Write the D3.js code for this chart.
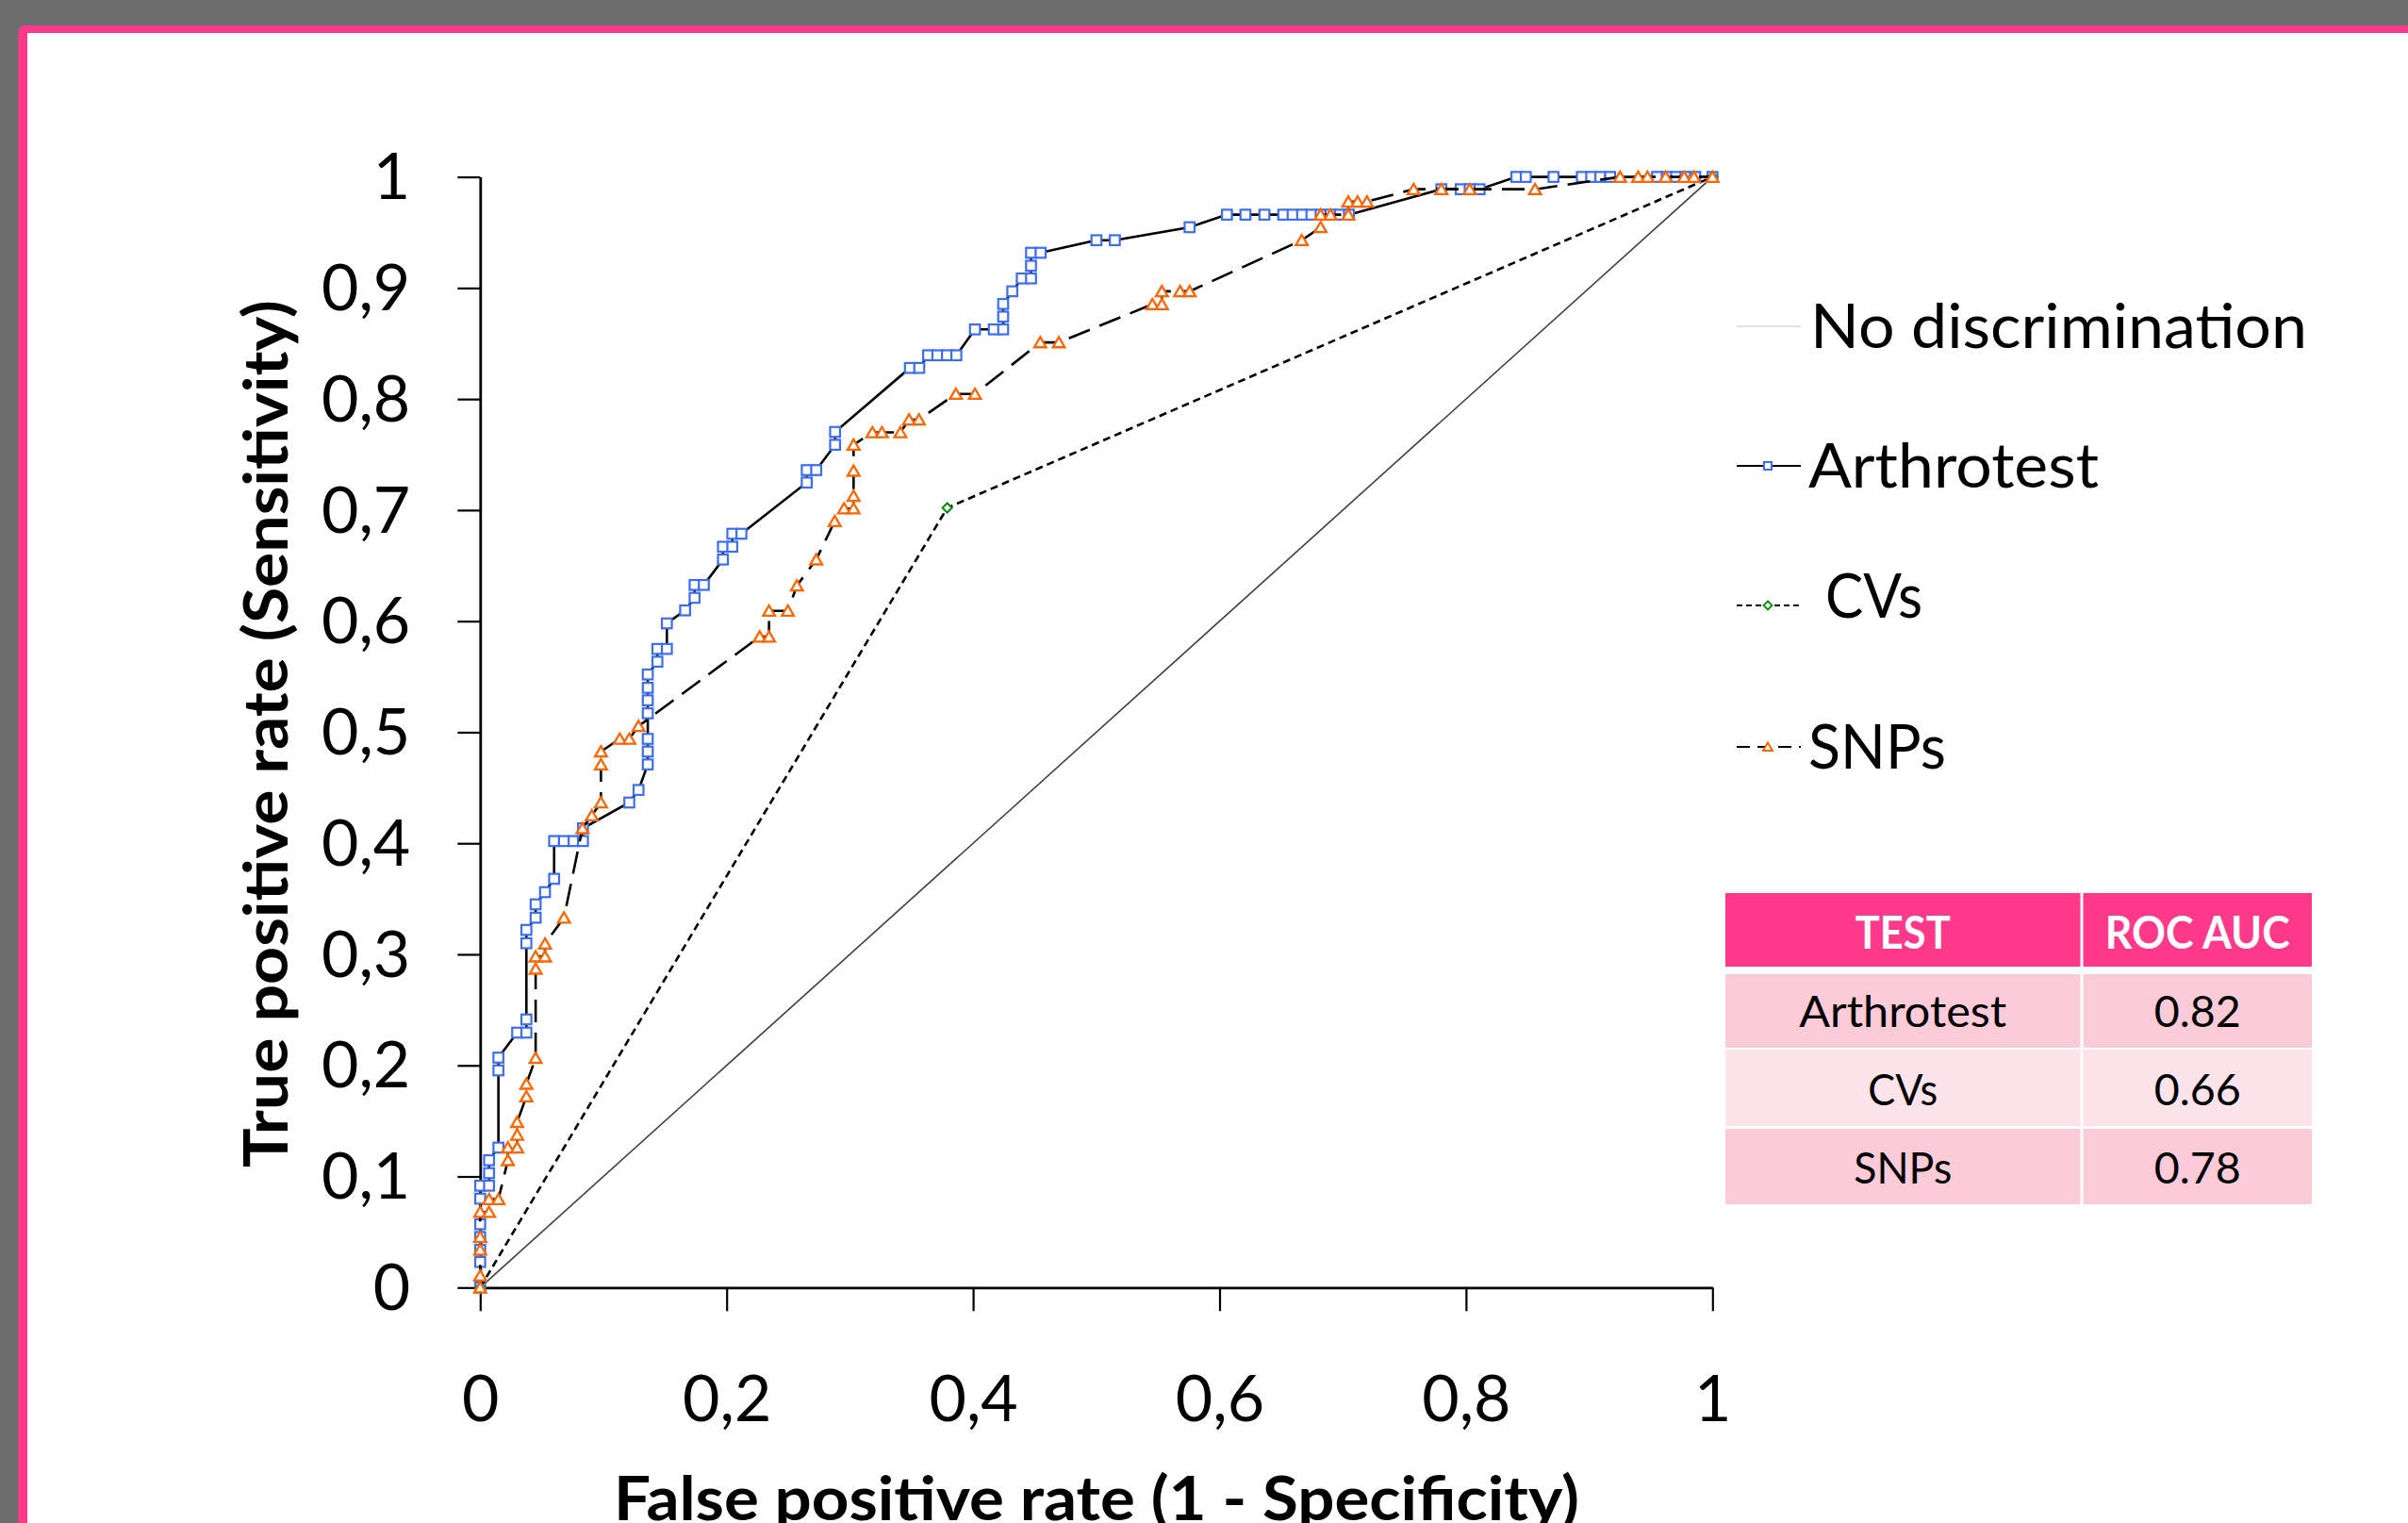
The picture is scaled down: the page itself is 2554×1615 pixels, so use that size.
<!DOCTYPE html>
<html><head><meta charset="utf-8">
<script src="https://cdn.jsdelivr.net/npm/d3@7"></script>
<style>body{margin:0;background:#6d6d6d;overflow:hidden} svg{display:block}</style>
</head><body>
<svg id="c" width="2554" height="1615"></svg>
<script>
// ---------- data ----------
const xTicks = [0, 0.2, 0.4, 0.6, 0.8, 1];
const xTickLabels = ["0", "0,2", "0,4", "0,6", "0,8", "1"];
const yTicks = [0, 0.1, 0.2, 0.3, 0.4, 0.5, 0.6, 0.7, 0.8, 0.9, 1];
const yTickLabels = ["0", "0,1", "0,2", "0,3", "0,4", "0,5", "0,6", "0,7", "0,8", "0,9", "1"];

const diagFPR = [0, 1];
const diagTPR = [0, 1];

const arthroFPR = [0,0,0,0,0,0,0,0.0072,0.0072,0.0072,0.0148,0.0148,0.0148,0.030,0.0375,0.0375,0.0375,0.0375,0.045,0.045,
  0.0526,0.060,0.060,0.068,0.0758,0.0834,0.0834,0.121,0.1285,0.136,0.136,0.136,0.136,0.136,0.136,0.136,0.1438,0.1438,0.1515,0.1515,
  0.1663,0.174,0.174,0.1815,0.197,0.197,0.2046,0.2046,0.212,0.265,0.265,0.2727,0.288,0.288,0.3487,0.3563,0.3635,0.371,0.3788,0.3864,
  0.4015,0.4168,0.4244,0.4244,0.4244,0.4318,0.4395,0.447,0.447,0.447,0.4548,0.5001,0.515,0.5757,0.606,0.621,0.6364,0.6517,0.6593,0.667,
  0.6746,0.682,0.690,0.6976,0.705,0.780,0.7957,0.803,0.811,0.8409,0.8485,0.871,0.894,0.9016,0.909,0.917,0.955,0.963,0.9705,0.978,0.986,1];
const arthroTPR = [0,0.023,0.034,0.0455,0.057,0.080,0.0917,0.0917,0.103,0.1146,0.126,0.1955,0.207,0.2295,0.2295,0.2414,0.310,0.322,0.333,0.345,
  0.356,0.368,0.402,0.402,0.402,0.402,0.4135,0.4367,0.448,0.471,0.4826,0.494,0.517,0.5287,0.540,0.552,0.5635,0.575,0.575,0.598,
  0.6097,0.621,0.6326,0.6326,0.6555,0.667,0.667,0.6787,0.6787,0.7248,0.736,0.736,0.7588,0.7704,0.828,0.828,0.8394,0.8394,0.8394,0.8394,
  0.8627,0.8627,0.8627,0.8742,0.8856,0.897,0.9086,0.9086,0.920,0.9317,0.9317,0.943,0.943,0.9547,0.966,0.966,0.966,0.966,0.966,0.966,
  0.966,0.966,0.966,0.966,0.966,0.9889,0.9889,0.9889,0.9889,1,1,1,1,1,1,1,1,1,1,1,1,1];

const cvsFPR = [0, 0.379, 1];
const cvsTPR = [0, 0.702, 1];

const snpsFPR = [0,0,0,0,0,0.0072,0.0072,0.0148,0.0225,0.0225,0.030,0.030,0.030,0.0375,0.0375,0.045,0.045,0.045,0.0526,0.0526,
  0.068,0.083,0.0906,0.098,0.098,0.098,0.1133,0.121,0.1285,0.2268,0.2344,0.2344,0.2497,0.257,0.2727,0.2877,0.2953,0.303,0.303,0.303,
  0.303,0.3183,0.326,0.341,0.348,0.356,0.386,0.4015,0.4545,0.4696,0.5455,0.5532,0.5532,0.568,0.5757,0.6667,0.682,0.682,0.690,0.7045,
  0.7045,0.712,0.7196,0.7575,0.780,0.803,0.856,0.925,0.9397,0.9473,0.962,0.977,0.985,1];
const snpsTPR = [0,0.0107,0.034,0.0455,0.068,0.068,0.0795,0.0795,0.1146,0.126,0.126,0.1375,0.149,0.172,0.1834,0.2066,0.287,0.298,0.298,0.3096,
  0.333,0.4135,0.425,0.4367,0.471,0.4826,0.494,0.494,0.5055,0.586,0.586,0.6093,0.6093,0.632,0.6555,0.690,0.7014,0.7014,0.7127,0.7353,
  0.7588,0.770,0.770,0.770,0.7815,0.7815,0.8046,0.8046,0.851,0.851,0.8853,0.8853,0.897,0.897,0.897,0.943,0.9547,0.966,0.966,0.966,
  0.9777,0.9777,0.9777,0.9889,0.9889,0.9889,0.9889,1,1,1,1,1,1,1];

const legendLabels = ["No discrimination", "Arthrotest", "CVs", "SNPs"];
const tableHeader = ["TEST", "ROC AUC"];
const tableTests = ["Arthrotest", "CVs", "SNPs"];
const tableAUC = ["0.82", "0.66", "0.78"];
const xTitle = "False positive rate (1 - Specificity)";
const yTitle = "True positive rate (Sensitivity)";

// ---------- drawing ----------
const PINK = "#ff398a", BLUE = "#3d6ef2", ORANGE = "#ff6600", GREEN = "#008a00";
const FONT = "Lato, 'Open Sans', sans-serif";
const svg = d3.select("#c");

// frame
svg.append("rect").attr("width", 2554).attr("height", 1615).attr("fill", "#6d6d6d");
svg.append("rect").attr("x", 19.5).attr("y", 27).attr("width", 2600).attr("height", 1700).attr("rx", 7).attr("fill", PINK);
svg.append("rect").attr("x", 29).attr("y", 35).attr("width", 2600).attr("height", 1700).attr("fill", "#fff");

const x = d3.scaleLinear().domain([0, 1]).range([509.3, 1816.3]);
const y = d3.scaleLinear().domain([0, 1]).range([1365.3, 187.6]);

// axes
const gy = svg.append("g").attr("transform", `translate(${x(0)},0)`)
  .call(d3.axisLeft(y).tickValues(yTicks).tickFormat((d, i) => yTickLabels[i]).tickSize(24).tickSizeOuter(0).tickPadding(50));
const gx = svg.append("g").attr("transform", `translate(0,${y(0)})`)
  .call(d3.axisBottom(x).tickValues(xTicks).tickFormat((d, i) => xTickLabels[i]).tickSize(25).tickSizeOuter(0).tickPadding(68));
[gx, gy].forEach(g => {
  g.attr("font-family", FONT).attr("font-size", 68);
  g.select(".domain").attr("stroke", "#000").attr("stroke-width", 2.8);
  g.selectAll(".tick line").attr("stroke", "#000").attr("stroke-width", 2.2);
  g.selectAll(".tick text").attr("fill", "#000");
});
gy.selectAll(".tick text").attr("dy", "0.34em");

// axis titles
svg.append("text").attr("x", 1163).attr("y", 1612).attr("text-anchor", "middle")
  .attr("font-family", FONT).attr("font-weight", 700).attr("font-size", 65)
  .attr("textLength", 1024).attr("lengthAdjust", "spacingAndGlyphs").text(xTitle);
svg.append("text").attr("transform", "translate(305,778) rotate(-90)").attr("text-anchor", "middle")
  .attr("font-family", FONT).attr("font-weight", 700).attr("font-size", 65)
  .attr("textLength", 920).attr("lengthAdjust", "spacingAndGlyphs").text(yTitle);

const line = d3.line().x(d => x(d[0])).y(d => y(d[1]));
const zip = (a, b) => a.map((v, i) => [v, b[i]]);

// series: No discrimination
svg.append("path").datum(zip(diagFPR, diagTPR)).attr("d", line)
  .attr("fill", "none").attr("stroke", "#404040").attr("stroke-width", 1.6);

// marker helpers
const sq = (g, s, w) => g.append("rect").attr("x", -s / 2).attr("y", -s / 2).attr("width", s).attr("height", s)
  .attr("fill", "#fff").attr("stroke", BLUE).attr("stroke-width", w);
const tri = (g, s, w) => g.append("path").attr("d", `M0,${-s * 0.5}L${s * 0.55},${s * 0.45}L${-s * 0.55},${s * 0.45}Z`)
  .attr("fill", "#fff").attr("stroke", ORANGE).attr("stroke-width", w).attr("stroke-linejoin", "miter");
const dia = (g, s, w) => g.append("path").attr("d", `M0,${-s / 2}L${s / 2},0L0,${s / 2}L${-s / 2},0Z`)
  .attr("fill", "#fff").attr("stroke", GREEN).attr("stroke-width", w);

function series(data, dash, marker, size, w) {
  svg.append("path").datum(data).attr("d", line).attr("fill", "none")
    .attr("stroke", "#000").attr("stroke-width", 2.6).attr("stroke-dasharray", dash);
  const g = svg.append("g");
  data.forEach(d => {
    const m = g.append("g").attr("transform", `translate(${x(d[0])},${y(d[1])})`);
    marker(m, size, w);
  });
}
series(zip(arthroFPR, arthroTPR), null, sq, 10.5, 2.2);
series(zip(cvsFPR, cvsTPR), "8,5", dia, 10, 2);
series(zip(snpsFPR, snpsTPR), "24,11", tri, 11.5, 2.3);

// legend
const legY = [346, 494, 642, 792];
const legTextX = [1920, 1918, 1936, 1918];
const legBase = [369, 517, 655, 815];
const legW = [527, 308, 103, 146];
const lg = svg.append("g");
lg.append("line").attr("x1", 1842).attr("x2", 1910).attr("y1", legY[0]).attr("y2", legY[0])
  .attr("stroke", "#d9d9d9").attr("stroke-width", 1.6);
lg.append("line").attr("x1", 1842).attr("x2", 1910).attr("y1", legY[1]).attr("y2", legY[1])
  .attr("stroke", "#000").attr("stroke-width", 2.2);
lg.append("line").attr("x1", 1842).attr("x2", 1910).attr("y1", legY[2]).attr("y2", legY[2])
  .attr("stroke", "#000").attr("stroke-width", 2).attr("stroke-dasharray", "6,4");
lg.append("line").attr("x1", 1842).attr("x2", 1910).attr("y1", legY[3]).attr("y2", legY[3])
  .attr("stroke", "#000").attr("stroke-width", 2).attr("stroke-dasharray", "14,8");
sq(lg.append("g").attr("transform", `translate(1875,${legY[1]})`), 8, 2);
dia(lg.append("g").attr("transform", `translate(1875,${legY[2]})`), 9, 1.8);
tri(lg.append("g").attr("transform", `translate(1875,${legY[3]})`), 9, 2);
legendLabels.forEach((t, i) => {
  lg.append("text").attr("x", legTextX[i]).attr("y", legBase[i])
    .attr("font-family", FONT).attr("font-size", 65).attr("fill", "#000")
    .attr("textLength", legW[i]).attr("lengthAdjust", "spacingAndGlyphs").text(t);
});

// table
const colX = [1830, 2209.5], colW = [376.5, 242.5];
const rowY = [947, 1033, 1113, 1197], rowH = [78, 78, 81, 80];
const rowFill = [PINK, "#fccbd8", "#fde4eb", "#fccbd8"];
const baseY = [1006, 1089, 1172, 1255];
const tg = svg.append("g");
const cells = [tableHeader].concat(tableTests.map((t, i) => [t, tableAUC[i]]));
const txtW = [[101, 196], [220, 92], [74, 92], [104, 92]];
cells.forEach((row, r) => {
  row.forEach((c, k) => {
    tg.append("rect").attr("x", colX[k]).attr("y", rowY[r]).attr("width", colW[k]).attr("height", rowH[r])
      .attr("fill", rowFill[r]);
    tg.append("text").attr("x", colX[k] + colW[k] / 2).attr("y", baseY[r]).attr("text-anchor", "middle")
      .attr("font-family", FONT).attr("font-size", 47).attr("font-weight", r === 0 ? 700 : 400)
      .attr("fill", r === 0 ? "#fff" : "#000")
      .attr("textLength", txtW[r][k]).attr("lengthAdjust", "spacingAndGlyphs").text(c);
  });
});
</script>
</body></html>
